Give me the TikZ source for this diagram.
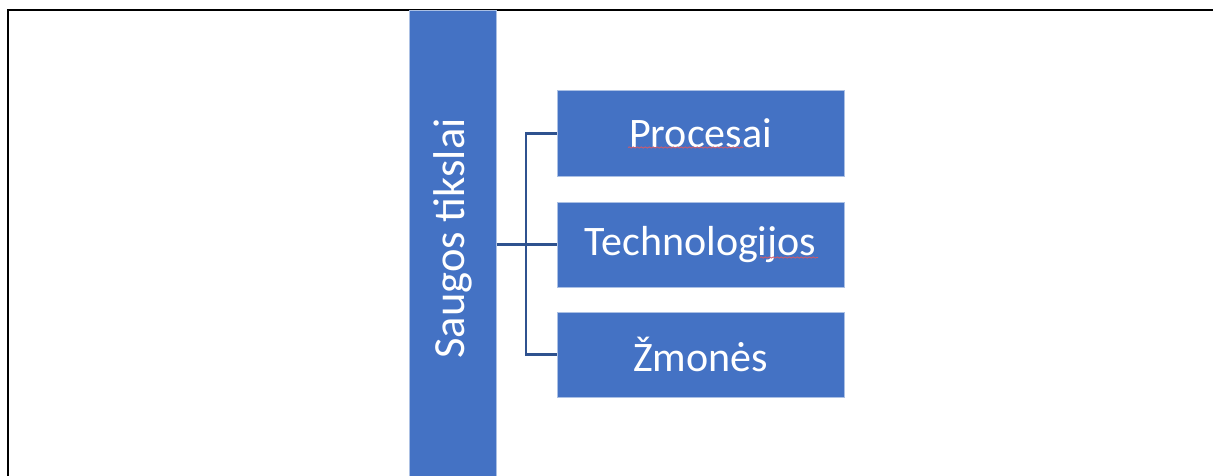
\documentclass[tikz,border=0pt]{standalone}
\usepackage{fontspec}
\setmainfont{Carlito}
\usetikzlibrary{decorations.pathmorphing}
\definecolor{boxblue}{HTML}{4472C4}
\definecolor{linkblue}{HTML}{2F528F}
\definecolor{spellred}{HTML}{D05A6A}
\tikzset{
  bluebox/.style={fill=boxblue, draw=white!55!boxblue, line width=1pt,
    text=white, font=\fontsize{42}{48}\selectfont, inner sep=0pt},
  itembox/.style={bluebox, minimum width=287pt, minimum height=85pt},
  link/.style={draw=linkblue, line width=2.2pt},
  spell/.style={draw=spellred, line width=0.8pt,
    decorate, decoration={snake, amplitude=0.6pt, segment length=4pt}}
}
\begin{document}
\begin{tikzpicture}[x=1pt, y=-1pt]
  \useasboundingbox (0,0) rectangle (1213,476);
  \clip (0,0) rectangle (1213,476);
  % frame (top and left edges)
  \draw[line width=2pt] (7.5,478) -- (7.5,10) -- (1215,10);
  % root column
  \node[bluebox, minimum width=87pt, minimum height=470pt] (root) at (452.5,246) {};
  \node[text=white, font=\fontsize{44.5}{50}\selectfont, rotate=90] (rootlabel) at (452.5,238.5) {Saugos tikslai};
  % branches
  \node[itembox] (p) at (700.5,133.5) {Procesai};
  \node[itembox] (t) at (700.5,244.5) {Technologijos};
  \node[itembox] (z) at (700.5,354.5) {Žmonės};
  % connector
  \coordinate (bus) at (526,244.5);
  \draw[link] (p.west) -| (bus) |- (z.west);
  \draw[link] (root.east |- t.west) -- (t.west);
  % spell-check underlines
  \draw[spell] (628,147.5) -- (743,147.5);
  \draw[spell] (760,257.5) -- (818,257.5);
\end{tikzpicture}
\end{document}
